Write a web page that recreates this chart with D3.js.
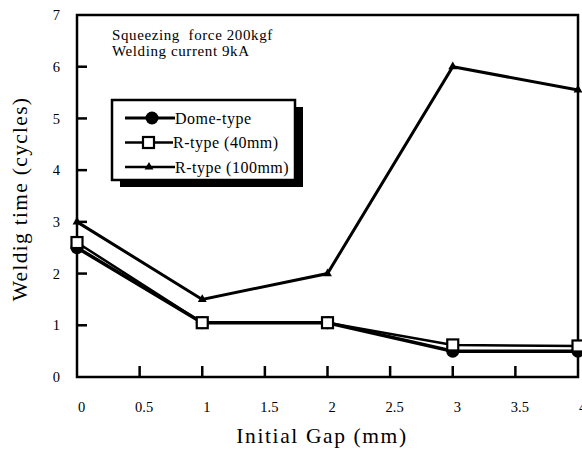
<!DOCTYPE html>
<html>
<head>
<meta charset="utf-8">
<script src="https://cdn.jsdelivr.net/npm/d3@7"></script>
<style>
  body { margin: 0; background: #fff; }
  svg { display: block; }
  svg text { font-family: "Liberation Serif", "Times New Roman", serif; }
</style>
</head>
<body>
<svg width="582" height="451"></svg>
<script>
var gaps = [0, 1, 2, 3, 4];
var domeType = [2.5, 1.05, 1.05, 0.5, 0.5];
var rType40 = [2.6, 1.05, 1.05, 0.62, 0.6];
var rType100 = [3.0, 1.5, 2.0, 6.0, 5.55];
var seriesNames = ["Dome-type", "R-type (40mm)", "R-type (100mm)"];
var xTicks = [0, 0.5, 1, 1.5, 2, 2.5, 3, 3.5, 4];
var yTicks = [0, 1, 2, 3, 4, 5, 6, 7];
var notes = ["Squeezing  force 200kgf", "Welding current 9kA"];

var margin = { top: 15, right: 4, bottom: 74, left: 77 },
    width = 582 - margin.left - margin.right,
    height = 451 - margin.top - margin.bottom;

var svg = d3.select("svg");
var g = svg.append("g")
    .attr("transform", "translate(" + margin.left + "," + margin.top + ")");

var x = d3.scaleLinear().domain([0, 4]).range([0, width]);
var y = d3.scaleLinear().domain([0, 7]).range([height, 0]);

// frame
g.append("rect")
    .attr("width", width).attr("height", height)
    .attr("fill", "none").attr("stroke", "#000").attr("stroke-width", 2.5);

// x ticks (inside, upward) and labels
var xAxis = d3.axisBottom(x).tickValues(xTicks).tickSize(0).tickPadding(25)
    .tickFormat(d3.format("~g"));
var xg = g.append("g").attr("transform", "translate(0," + height + ")").call(xAxis);
xg.select(".domain").remove();
xg.selectAll("text").attr("dx", 4).style("font-size", "14.5px").style("fill", "#000");
g.selectAll(".xtick").data(xTicks.filter(d => d > 0 && d < 4)).enter().append("line")
    .attr("x1", d => x(d)).attr("x2", d => x(d))
    .attr("y1", height).attr("y2", height - 11)
    .attr("stroke", "#000").attr("stroke-width", 2.5);

// y ticks (inside) and labels
var yAxis = d3.axisLeft(y).tickValues(yTicks).tickSize(0).tickPadding(17)
    .tickFormat(d3.format("d"));
var yg = g.append("g").call(yAxis);
yg.select(".domain").remove();
yg.selectAll("text").style("font-size", "14.5px").style("fill", "#000");
g.selectAll(".ytick").data(yTicks.filter(d => d > 0 && d < 7)).enter().append("line")
    .attr("x1", 0).attr("x2", 10)
    .attr("y1", d => y(d)).attr("y2", d => y(d))
    .attr("stroke", "#000").attr("stroke-width", 2.5);

// titles
svg.append("text")
    .attr("x", 322).attr("y", 443)
    .attr("text-anchor", "middle").attr("font-size", 21.5)
    .style("letter-spacing", "1.6px")
    .text("Initial Gap (mm)");
svg.append("text")
    .attr("transform", "translate(27," + (margin.top + height / 2 + 3) + ") rotate(-90)")
    .attr("text-anchor", "middle").attr("font-size", 21.5)
    .style("letter-spacing", "1.3px")
    .text("Weldig time (cycles)");

// annotation
g.selectAll(".note").data(notes).enter().append("text")
    .attr("x", 35).attr("y", (d, i) => 25 + i * 16)
    .attr("font-size", 15)
    .style("letter-spacing", "0.6px")
    .style("white-space", "pre")
    .text(d => d);

var line = d3.line().x((d, i) => x(gaps[i])).y(d => y(d));

// series lines
g.append("path").datum(rType100).attr("d", line)
    .attr("fill", "none").attr("stroke", "#000").attr("stroke-width", 3);
g.append("path").datum(domeType).attr("d", line)
    .attr("fill", "none").attr("stroke", "#000").attr("stroke-width", 3.5);
g.append("path").datum(rType40).attr("d", line)
    .attr("fill", "none").attr("stroke", "#000").attr("stroke-width", 2.5);

// markers
var tri = d3.symbol().type(d3.symbolTriangle).size(34);
g.selectAll(".m100").data(rType100).enter().append("path")
    .attr("d", tri)
    .attr("transform", (d, i) => "translate(" + x(gaps[i]) + "," + y(d) + ")")
    .attr("fill", "#000");
g.selectAll(".mdome").data(domeType).enter().append("circle")
    .attr("cx", (d, i) => x(gaps[i])).attr("cy", d => y(d)).attr("r", 6.5)
    .attr("fill", "#000");
g.selectAll(".m40").data(rType40).enter().append("rect")
    .attr("x", (d, i) => x(gaps[i]) - 5.5).attr("y", d => y(d) - 5.5)
    .attr("width", 11).attr("height", 11)
    .attr("fill", "#fff").attr("stroke", "#000").attr("stroke-width", 2.2);

// legend
var lg = svg.append("g").attr("transform", "translate(112,100)");
lg.append("rect").attr("x", 8).attr("y", 7).attr("width", 183).attr("height", 80).attr("fill", "#000");
lg.append("rect").attr("width", 183).attr("height", 80)
    .attr("fill", "#fff").attr("stroke", "#000").attr("stroke-width", 2.5);
var rows = lg.selectAll(".row").data(seriesNames).enter().append("g")
    .attr("transform", (d, i) => "translate(0," + (18 + i * 24.5) + ")");
rows.append("line").attr("x1", 13).attr("x2", (d, i) => i === 1 ? 61 : 63)
    .attr("stroke", "#000").attr("stroke-width", (d, i) => i === 0 ? 3 : 2.5);
rows.each(function(d, i) {
    var r = d3.select(this);
    if (i === 0) r.append("circle").attr("cx", 40).attr("r", 6.5).attr("fill", "#000");
    else if (i === 1) r.append("rect").attr("x", 31).attr("y", -5.5).attr("width", 11).attr("height", 11)
        .attr("fill", "#fff").attr("stroke", "#000").attr("stroke-width", 2.2);
    else r.append("path").attr("d", tri).attr("transform", "translate(37,0)").attr("fill", "#000");
});
rows.append("text")
    .attr("x", (d, i) => i === 1 ? 61 : 63).attr("dy", "0.35em")
    .attr("font-size", 16)
    .style("letter-spacing", "0.5px")
    .text(d => d);
</script>
</body>
</html>
